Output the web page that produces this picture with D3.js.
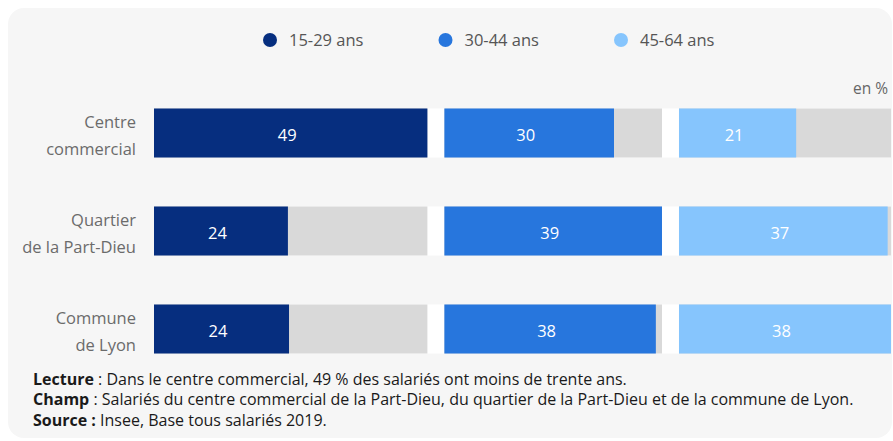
<!DOCTYPE html>
<html>
<head>
<meta charset="utf-8">
<script src="https://cdn.jsdelivr.net/npm/d3@7"></script>
<style>
  html, body { margin: 0; padding: 0; background: #ffffff; }
  svg { display: block; font-family: "Open Sans", "Noto Sans", sans-serif; }
</style>
</head>
<body>
<svg id="chart" width="893" height="441"></svg>
<script>
// Data
const categories = ["Centre commercial", "Quartier de la Part-Dieu", "Commune de Lyon"];
const categoryLines = [["Centre", "commercial"], ["Quartier", "de la Part-Dieu"], ["Commune", "de Lyon"]];
const series = ["15-29 ans", "30-44 ans", "45-64 ans"];
const age1529 = [49, 24, 24.2];
const age3044 = [30.4, 39, 37.9];
const age4564 = [21, 37.4, 38];
const seriesValues = [age1529, age3044, age4564];
const colors = ["#062e7f", "#2776dd", "#86c5fd"];
const notes = [
  ["Lecture", " : Dans le centre commercial, 49 % des salariés ont moins de trente ans."],
  ["Champ", " : Salariés du centre commercial de la Part-Dieu, du quartier de la Part-Dieu et de la commune de Lyon."],
  ["Source :", " Insee, Base tous salariés 2019."]
];

const svg = d3.select("#chart");

// panel background
svg.append("rect")
  .attr("x", 8).attr("y", 8)
  .attr("width", 884).attr("height", 430)
  .attr("rx", 16)
  .attr("fill", "#f6f6f6");

// legend
const legendX = d3.scalePoint().domain(series).range([270, 621]);
const legend = svg.append("g").selectAll("g")
  .data(series)
  .join("g")
  .attr("transform", d => `translate(${legendX(d)},40)`);
legend.append("circle").attr("r", 7).attr("fill", (d, i) => colors[i]);
legend.append("text")
  .attr("x", 19).attr("y", 6)
  .attr("font-size", 16.5).attr("fill", "#555")
  .text(d => d);

svg.append("text")
  .attr("x", 888).attr("y", 94)
  .attr("text-anchor", "end")
  .attr("font-size", 15.5).attr("fill", "#666")
  .text("en %");

// layout of the three small panels
const left = 154, right = 891, gap = 17;
const maxes = seriesValues.map(v => d3.max(v));
const k = (right - left - gap * (series.length - 1)) / d3.sum(maxes);
const offsets = [];
let acc = left;
maxes.forEach(m => { offsets.push(acc); acc += m * k + gap; });
const xs = maxes.map((m, i) => d3.scaleLinear().domain([0, m]).range([offsets[i], offsets[i] + m * k]));

const y = d3.scaleBand()
  .domain(categories)
  .range([84, 378])
  .paddingInner(0.5)
  .paddingOuter(0.25);

// white strip behind each row
svg.append("g").selectAll("rect")
  .data(categories)
  .join("rect")
  .attr("x", left)
  .attr("y", d => y(d))
  .attr("width", right - left)
  .attr("height", y.bandwidth())
  .attr("fill", "#ffffff");

series.forEach((s, si) => {
  const x = xs[si];
  const g = svg.append("g");
  // grey track
  g.selectAll(".track")
    .data(categories)
    .join("rect")
    .attr("class", "track")
    .attr("x", x(0))
    .attr("y", d => y(d))
    .attr("width", x(maxes[si]) - x(0))
    .attr("height", y.bandwidth())
    .attr("fill", "#d9d9d9");
  // bars
  g.selectAll(".bar")
    .data(categories)
    .join("rect")
    .attr("class", "bar")
    .attr("x", x(0))
    .attr("y", d => y(d))
    .attr("width", (d, i) => x(seriesValues[si][i]) - x(0))
    .attr("height", y.bandwidth())
    .attr("fill", colors[si]);
  // value labels
  g.selectAll(".val")
    .data(categories)
    .join("text")
    .attr("class", "val")
    .attr("x", (d, i) => (x(0) + x(seriesValues[si][i])) / 2 - 3.5)
    .attr("y", d => y(d) + 32.5)
    .attr("text-anchor", "middle")
    .attr("font-size", 16.5)
    .attr("fill", "#ffffff")
    .text((d, i) => d3.format(".0f")(seriesValues[si][i]));
});

// category labels
const cat = svg.append("g").selectAll("text")
  .data(categories)
  .join("text")
  .attr("text-anchor", "end")
  .attr("font-size", 16.5)
  .attr("fill", "#6b6b6b");
cat.selectAll("tspan")
  .data((d, i) => categoryLines[i].map((t, j) => ({ t, j, c: d })))
  .join("tspan")
  .attr("x", 136)
  .attr("y", d => y(d.c) + 19.5 + d.j * 27)
  .text(d => d.t);

// notes
const note = svg.append("g").selectAll("text")
  .data(notes)
  .join("text")
  .attr("x", 33)
  .attr("y", (d, i) => 384.5 + i * 20.5)
  .attr("font-size", 16)
  .attr("fill", "#1a1a1a");
note.append("tspan").attr("font-weight", "bold").text(d => d[0]);
note.append("tspan").text(d => d[1]);
</script>
</body>
</html>
